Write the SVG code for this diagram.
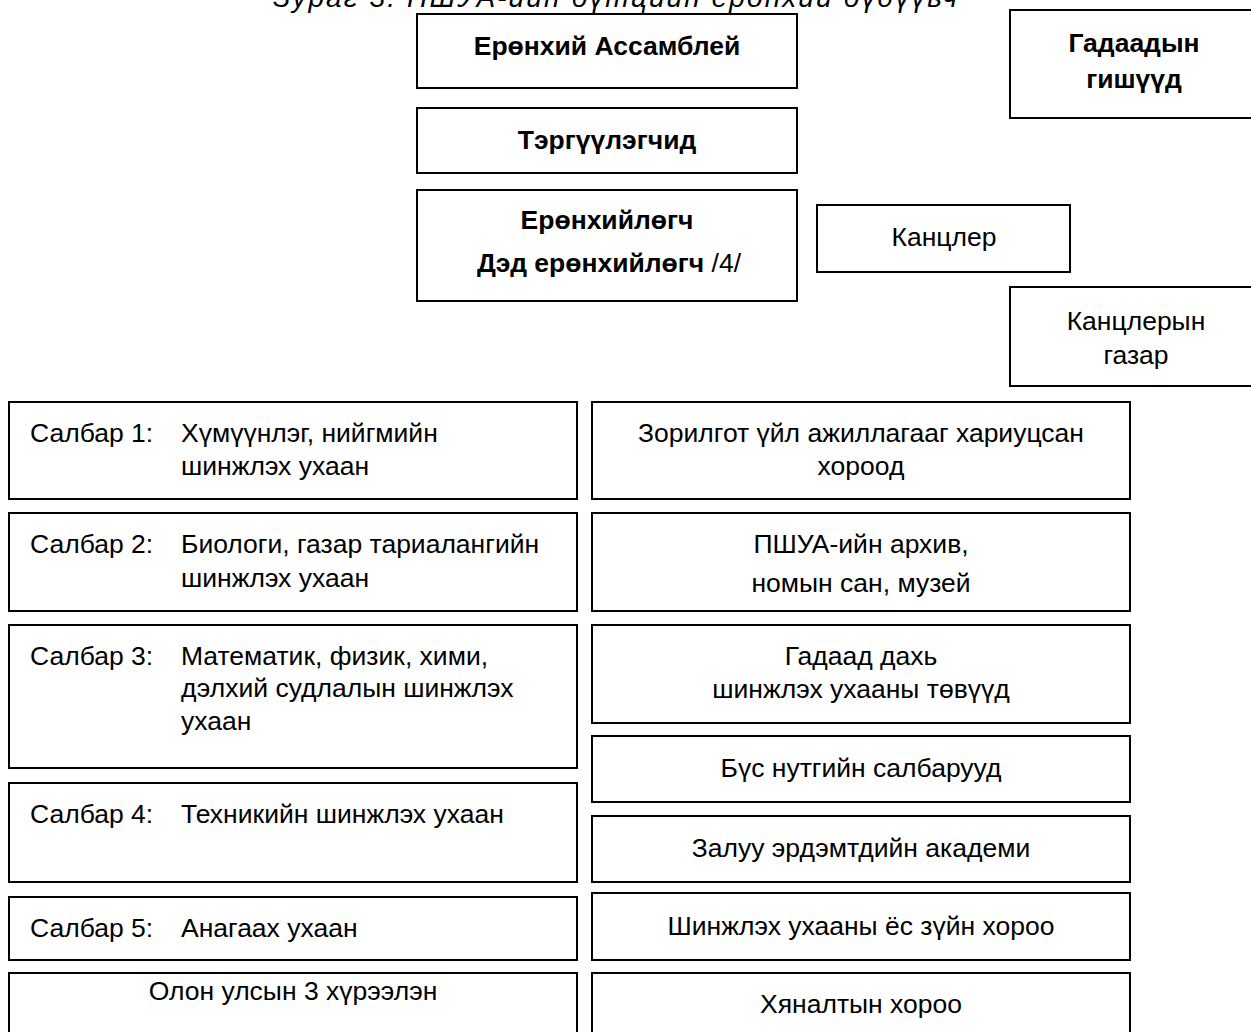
<svg xmlns="http://www.w3.org/2000/svg" width="1251" height="1032" viewBox="0 0 1251 1032">
<style>
  .box{fill:#fff;stroke:#000;stroke-width:2}
  text{font-family:"Liberation Sans",Arial,sans-serif;font-size:26.5px;fill:#000}
  .b{font-weight:bold}
  .c{text-anchor:middle}
  .title{font-style:italic;font-size:28px}
</style>
<rect width="1251" height="1032" fill="#fff"/>
<text class="title" x="273" y="7" textLength="684" lengthAdjust="spacing">Зураг 3. ПШУА-ийн бүтцийн ерөнхий бүдүүвч</text>

<g id="general-assembly">
  <rect class="box" x="417" y="14" width="380" height="74"/>
  <text class="b c" x="607" y="55">Ерөнхий Ассамблей</text>
</g>
<g id="presidium">
  <rect class="box" x="417" y="108" width="380" height="65"/>
  <text class="b c" x="607" y="149">Тэргүүлэгчид</text>
</g>
<g id="president">
  <rect class="box" x="417" y="190" width="380" height="111"/>
  <text class="b c" x="607" y="229">Ерөнхийлөгч</text>
  <text class="c" x="609" y="272"><tspan class="b">Дэд ерөнхийлөгч</tspan> /4/</text>
</g>
<g id="chancellor">
  <rect class="box" x="817" y="205" width="253" height="67"/>
  <text class="c" x="944" y="246">Канцлер</text>
</g>
<g id="foreign-members">
  <rect class="box" x="1010" y="10" width="252" height="108"/>
  <text class="b c" x="1134" y="52">Гадаадын</text>
  <text class="b c" x="1134" y="88">гишүүд</text>
</g>
<g id="chancellery">
  <rect class="box" x="1010" y="287" width="252" height="99"/>
  <text class="c" x="1136" y="330">Канцлерын</text>
  <text class="c" x="1136" y="364">газар</text>
</g>

<g id="branch1">
  <rect class="box" x="9" y="402" width="568" height="97"/>
  <text x="30" y="442">Салбар 1:</text>
  <text x="181" y="442">Хүмүүнлэг, нийгмийн</text>
  <text x="181" y="475">шинжлэх ухаан</text>
</g>
<g id="branch2">
  <rect class="box" x="9" y="513" width="568" height="98"/>
  <text x="30" y="553">Салбар 2:</text>
  <text x="181" y="553">Биологи, газар тариалангийн</text>
  <text x="181" y="587">шинжлэх ухаан</text>
</g>
<g id="branch3">
  <rect class="box" x="9" y="625" width="568" height="143"/>
  <text x="30" y="665">Салбар 3:</text>
  <text x="181" y="665">Математик, физик, хими,</text>
  <text x="181" y="697">дэлхий судлалын шинжлэх</text>
  <text x="181" y="730">ухаан</text>
</g>
<g id="branch4">
  <rect class="box" x="9" y="783" width="568" height="99"/>
  <text x="30" y="823">Салбар 4:</text>
  <text x="181" y="823">Техникийн шинжлэх ухаан</text>
</g>
<g id="branch5">
  <rect class="box" x="9" y="897" width="568" height="63"/>
  <text x="30" y="937">Салбар 5:</text>
  <text x="181" y="937">Анагаах ухаан</text>
</g>
<g id="institutes">
  <rect class="box" x="9" y="973" width="568" height="80"/>
  <text class="c" x="293" y="1000">Олон улсын 3 хүрээлэн</text>
</g>

<g id="committees">
  <rect class="box" x="592" y="402" width="538" height="97"/>
  <text class="c" x="861" y="442">Зорилгот үйл ажиллагааг хариуцсан</text>
  <text class="c" x="861" y="475">хороод</text>
</g>
<g id="archive">
  <rect class="box" x="592" y="513" width="538" height="98"/>
  <text class="c" x="861" y="553">ПШУА-ийн архив,</text>
  <text class="c" x="861" y="592">номын сан, музей</text>
</g>
<g id="abroad-centers">
  <rect class="box" x="592" y="625" width="538" height="98"/>
  <text class="c" x="861" y="665">Гадаад дахь</text>
  <text class="c" x="861" y="698">шинжлэх ухааны төвүүд</text>
</g>
<g id="regional">
  <rect class="box" x="592" y="736" width="538" height="66"/>
  <text class="c" x="861" y="777">Бүс нутгийн салбарууд</text>
</g>
<g id="young-academy">
  <rect class="box" x="592" y="816" width="538" height="66"/>
  <text class="c" x="861" y="857">Залуу эрдэмтдийн академи</text>
</g>
<g id="ethics">
  <rect class="box" x="592" y="893" width="538" height="67"/>
  <text class="c" x="861" y="935">Шинжлэх ухааны ёс зүйн хороо</text>
</g>
<g id="audit">
  <rect class="box" x="592" y="973" width="538" height="80"/>
  <text class="c" x="861" y="1013">Хяналтын хороо</text>
</g>
<g id="connectors"></g>
</svg>
